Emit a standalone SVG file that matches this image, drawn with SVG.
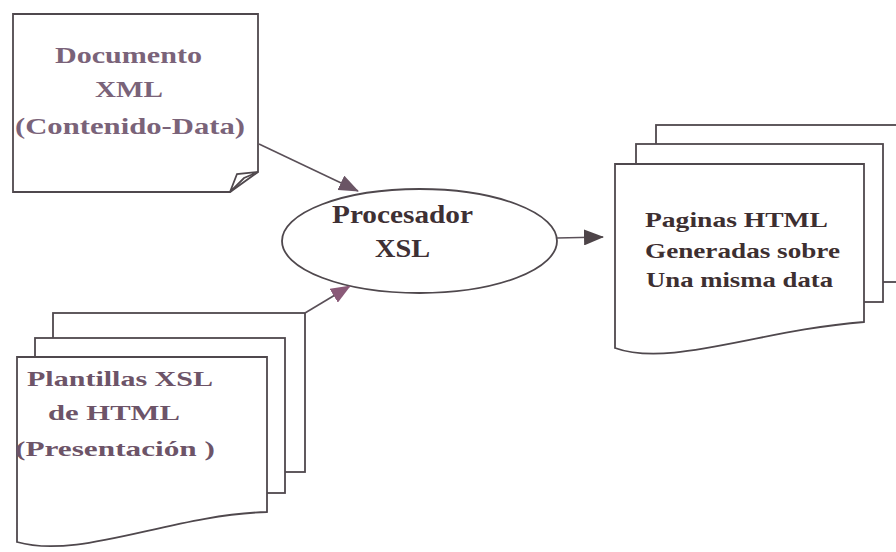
<svg xmlns="http://www.w3.org/2000/svg" width="896" height="552" viewBox="0 0 896 552">
  <style>
    .page { fill: #ffffff; stroke: #4f484d; stroke-width: 1.8; stroke-linejoin: miter; }
    .lbl { font-family: "Liberation Serif", "Times New Roman", serif; font-weight: bold; }
    .doc-t { fill: #7a6379; font-size: 24px; }
    .tpl-t { fill: #6d5468; font-size: 22px; }
    .proc-t { fill: #3e3034; font-size: 25px; }
    .out-t { fill: #3d2f31; font-size: 22px; }
    .conn { fill: none; stroke: #5a5058; stroke-width: 1.6; }
  </style>
  <defs>
    <marker id="head" viewBox="0 0 20 16" refX="19" refY="8" markerWidth="20" markerHeight="16" markerUnits="userSpaceOnUse" orient="auto">
      <path d="M0,0 L20,8 L0,16 Z" fill="#6a5565"/>
    </marker>
    <marker id="head-pink" viewBox="0 0 20 16" refX="19" refY="8" markerWidth="20" markerHeight="16" markerUnits="userSpaceOnUse" orient="auto">
      <path d="M0,0 L20,8 L0,16 Z" fill="#8a5a78"/>
    </marker>
    <marker id="head-dark" viewBox="0 0 20 16" refX="19" refY="8" markerWidth="20" markerHeight="16" markerUnits="userSpaceOnUse" orient="auto">
      <path d="M0,0 L20,8 L0,16 Z" fill="#4d4448"/>
    </marker>
  </defs>

  <rect width="896" height="552" fill="#ffffff"/>

  <!-- XML source document with a curled corner -->
  <g id="documento-xml">
    <path class="page" d="M13,14 H258 V172 L230,192 H13 Z"/>
    <path class="page" d="M230,192 L237,174 L258,172 L244,178 Z"/>
    <text class="lbl doc-t" x="55" y="63" textLength="147" lengthAdjust="spacingAndGlyphs">Documento</text>
    <text class="lbl doc-t" x="95" y="97" textLength="68" lengthAdjust="spacingAndGlyphs">XML</text>
    <text class="lbl doc-t" x="15" y="134" textLength="230" lengthAdjust="spacingAndGlyphs">(Contenido-Data)</text>
  </g>

  <!-- XSL templates: stack of three pages -->
  <g id="plantillas-xsl">
    <rect class="page" x="53" y="313" width="252" height="159"/>
    <rect class="page" x="35" y="338" width="250" height="155"/>
    <path class="page" d="M17,357 H267 V512 C170,515 80,560 17,542 Z"/>
    <text class="lbl tpl-t" x="27" y="386" textLength="186" lengthAdjust="spacingAndGlyphs">Plantillas XSL</text>
    <text class="lbl tpl-t" x="48" y="420" textLength="132" lengthAdjust="spacingAndGlyphs">de HTML</text>
    <text class="lbl tpl-t" x="15" y="456" textLength="200" lengthAdjust="spacingAndGlyphs">(Presentación )</text>
  </g>

  <!-- XSL processor -->
  <g id="procesador-xsl">
    <ellipse class="page" cx="419.5" cy="241" rx="137.5" ry="52"/>
    <text class="lbl proc-t" x="332" y="223" textLength="141" lengthAdjust="spacingAndGlyphs">Procesador</text>
    <text class="lbl proc-t" x="375" y="257" textLength="55" lengthAdjust="spacingAndGlyphs">XSL</text>
  </g>

  <!-- Generated HTML pages: stack of three pages -->
  <g id="paginas-html">
    <rect class="page" x="656" y="125" width="260" height="157"/>
    <rect class="page" x="636" y="144" width="247" height="158"/>
    <path class="page" d="M615,164 H864 V322 C760,330 670,368 615,348 Z"/>
    <text class="lbl out-t" x="645" y="227" textLength="183" lengthAdjust="spacingAndGlyphs">Paginas HTML</text>
    <text class="lbl out-t" x="645" y="258" textLength="195" lengthAdjust="spacingAndGlyphs">Generadas sobre</text>
    <text class="lbl out-t" x="646" y="287" textLength="187" lengthAdjust="spacingAndGlyphs">Una misma data</text>
  </g>

  <g id="connectors">
    <line class="conn" x1="259" y1="144" x2="358" y2="191" marker-end="url(#head)"/>
    <line class="conn" x1="305" y1="313" x2="350" y2="286" marker-end="url(#head-pink)"/>
    <line class="conn" x1="557" y1="238" x2="603" y2="237" marker-end="url(#head-dark)"/>
  </g>
</svg>
